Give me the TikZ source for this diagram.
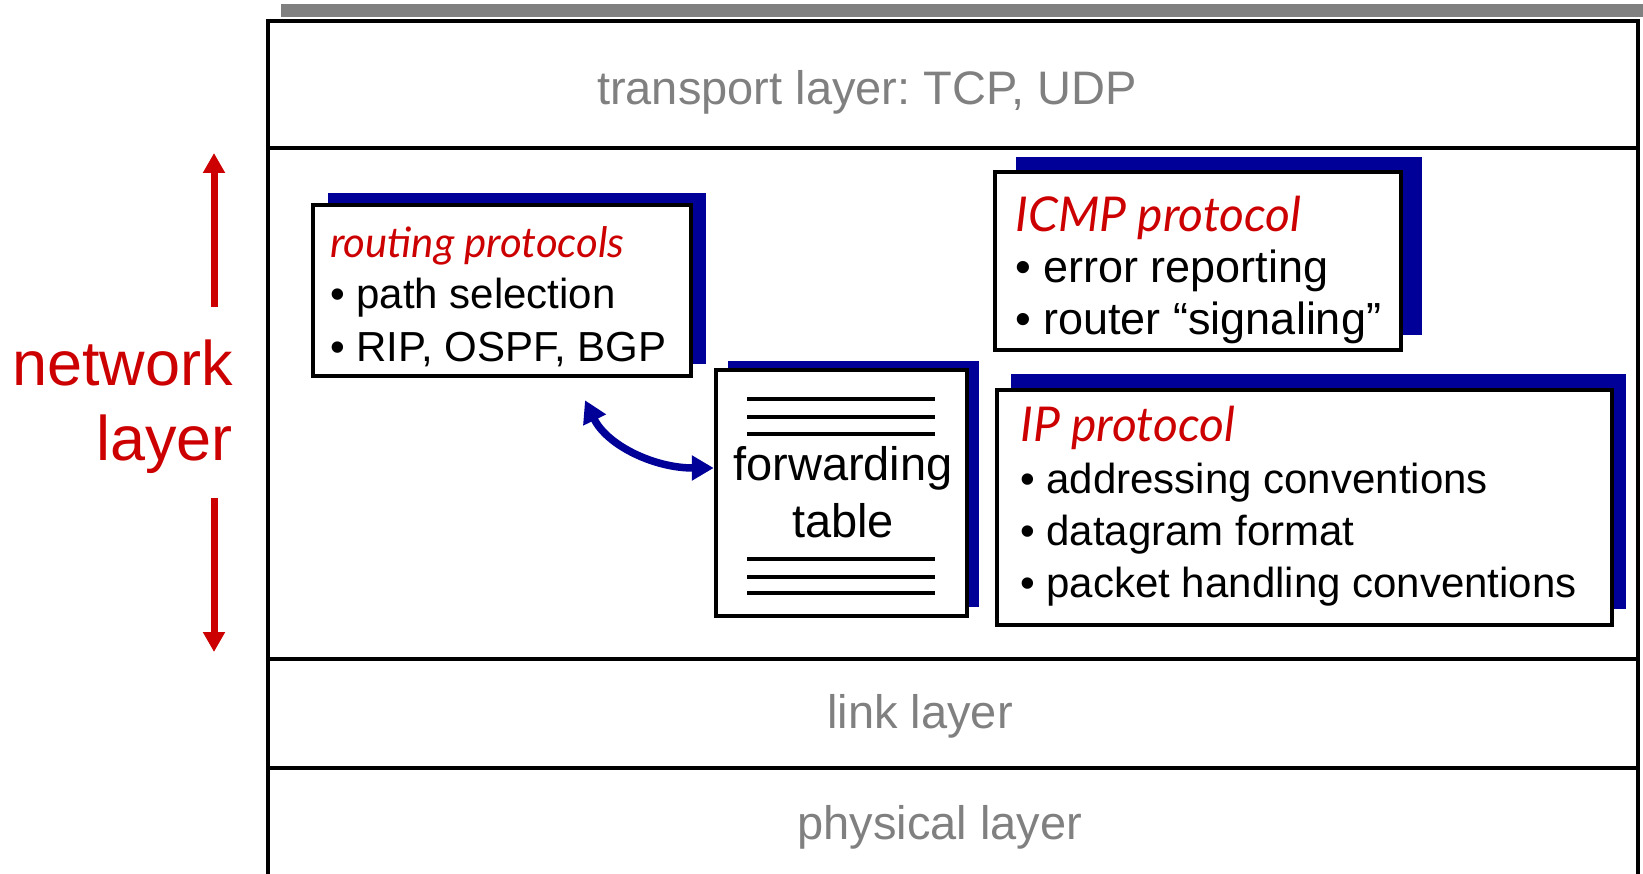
\documentclass[tikz,border=0pt]{standalone}
\usepackage{fontspec}
\setmainfont{Liberation Sans}
\newfontfamily\headfont{Lato}
\usetikzlibrary{arrows.meta,shadows}
\frenchspacing
\definecolor{netred}{RGB}{204,0,0}
\definecolor{shadowblue}{RGB}{0,0,153}
\definecolor{layergrey}{RGB}{128,128,128}
\tikzset{
  layerline/.style={line width=4pt},
  layertext/.style={text=layergrey, font=\fontsize{47}{56}\selectfont, anchor=base, inner sep=0pt},
  protobox/.style={draw, line width=4.5pt, fill=white, inner sep=0pt},
  bluedrop/.style 2 args={drop shadow={shadow xshift=#1pt, shadow yshift=#2pt, fill=shadowblue, opacity=1}},
  boxtext/.style={align=left, anchor=base west, inner sep=0pt},
  tableline/.style={line width=3.5pt},
  netarrow/.style={netred, line width=7pt, -{Triangle[length=20pt,width=21pt]}},
  linkarrow/.style={shadowblue, line width=7.5pt, {Triangle[length=22pt,width=24pt]}-{Triangle[length=22pt,width=24pt]}}
}
\newcommand{\boxhead}[1]{{\headfont\itshape\color{netred}#1}}
\begin{document}
\begin{tikzpicture}[x=1pt,y=-1pt]
\useasboundingbox (0,0) rectangle (1643,874);
% frame of the layer stack
\fill[layergrey] (281,4) rectangle (1643,17);
\draw[layerline] (268,876) |- (1638,21) -- (1638,876);
\foreach \ly in {148,659,768}
  \draw[layerline] (268,\ly) -- (1638,\ly);
\node[layertext] (transport) at (867,105) {transport layer: TCP, UDP};
\node[layertext] (link) at (920,728) {link layer};
\node[layertext] (physical) at (940,839) {physical layer};
% network layer label (base = last line)
\node[netred, align=right, anchor=base east, inner sep=0pt, font=\fontsize{63}{75}\selectfont] (netlabel) at (233,460) {network\\layer};
\coordinate (netuptail) at (214,307);
\coordinate (netuptip) at (214,153);
\coordinate (netdntail) at (214,498);
\coordinate (netdntip) at (214,652);
\draw[netarrow] (netuptail) -- (netuptip);
\draw[netarrow] (netdntail) -- (netdntip);
% protocol boxes
\node[protobox, bluedrop={15}{12}, minimum width=378pt, minimum height=171pt] (routing) at (502,290.5) {};
\node[boxtext, font=\fontsize{42}{52}\selectfont] (routingtext) at (330,361)
  {\boxhead{\fontsize{42}{52}\selectfont routing protocols}\\• path selection\\• RIP, OSPF, BGP};
\node[protobox, bluedrop={21}{15}, minimum width=406pt, minimum height=178pt] (icmp) at (1198,261) {};
\node[boxtext, font=\fontsize{45}{52}\selectfont] (icmptext) at (1015,335)
  {\boxhead{\fontsize{48}{52}\selectfont ICMP protocol}\\• error reporting\\• router “signaling”};
\node[protobox, bluedrop={14}{16}, minimum width=615pt, minimum height=235pt] (ip) at (1304.5,507.5) {};
\node[boxtext, font=\fontsize{42}{52}\selectfont] (iptext) at (1020,597)
  {\boxhead{\fontsize{48}{52}\selectfont IP protocol}\\• addressing conventions\\• datagram format\\• packet handling conventions};
\node[protobox, bluedrop={12}{9}, minimum width=251pt, minimum height=246pt] (fwd) at (841.5,493) {};
\foreach \ty in {399,417,434,559,577,593}
  \draw[tableline] (747,\ty) -- (935,\ty);
\node[align=center, anchor=base, inner sep=0pt, font=\fontsize{47}{57}\selectfont] (fwdtext) at (843,537) {forwarding\\table};
\draw[linkarrow] ([xshift=83pt,yshift=-22pt]routing.south) .. controls +(22,45) and +(-60,0) .. ([yshift=25pt]fwd.west);
\end{tikzpicture}
\end{document}
